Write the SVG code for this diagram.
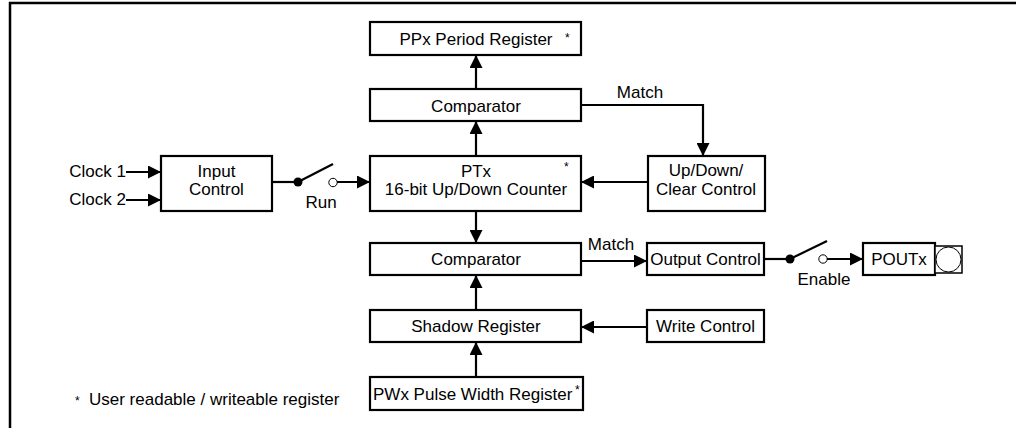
<svg xmlns="http://www.w3.org/2000/svg" width="1016" height="428" viewBox="0 0 1016 428">
<style>
.b{fill:#fff;stroke:#000;stroke-width:2.2}
.t{font-family:"Liberation Sans",Arial,sans-serif;font-size:17px;fill:#000}
.c{text-anchor:middle}
.s{font-family:"Liberation Sans",Arial,sans-serif;font-size:12px;fill:#000}
.w{fill:none;stroke:#000;stroke-width:2.2}
</style>
<defs>
<marker id="a" markerUnits="userSpaceOnUse" markerWidth="13" markerHeight="13" refX="13" refY="6.5" orient="auto">
<path d="M0,0 L13,6.5 L0,13 z" fill="#000"/>
</marker>
</defs>
<rect width="1016" height="428" fill="#fff"/>
<path d="M10,430 V3 H1020" fill="none" stroke="#000" stroke-width="2.5"/>

<g id="connectors">
<line class="w" x1="476" y1="89" x2="476" y2="55" marker-end="url(#a)"/>
<line class="w" x1="476" y1="156" x2="476" y2="121" marker-end="url(#a)"/>
<polyline class="w" points="581,105 703,105 703,156" marker-end="url(#a)"/>
<text class="t c" x="640" y="98">Match</text>
<line class="w" x1="648" y1="182" x2="581" y2="182" marker-end="url(#a)"/>
<line class="w" x1="126" y1="172" x2="161" y2="172" marker-end="url(#a)"/>
<line class="w" x1="126" y1="200" x2="161" y2="200" marker-end="url(#a)"/>
<line class="w" x1="272" y1="182" x2="298" y2="182"/>
<circle cx="298" cy="182" r="4.5" fill="#000"/>
<line class="w" x1="298" y1="182" x2="333" y2="164"/>
<circle cx="333" cy="182.5" r="4.2" fill="#fff" stroke="#000" stroke-width="1"/>
<line class="w" x1="337" y1="182" x2="370" y2="182" marker-end="url(#a)"/>
<text class="t c" x="321" y="208">Run</text>
<line class="w" x1="476" y1="211" x2="476" y2="243" marker-end="url(#a)"/>
<line class="w" x1="581" y1="261" x2="647" y2="261" marker-end="url(#a)"/>
<text class="t c" x="611" y="250">Match</text>
<line class="w" x1="764" y1="259" x2="790" y2="259"/>
<circle cx="790" cy="259" r="4.5" fill="#000"/>
<line class="w" x1="790" y1="259" x2="827" y2="241"/>
<circle cx="823" cy="259" r="4.2" fill="#fff" stroke="#000" stroke-width="1"/>
<line class="w" x1="827" y1="259" x2="863" y2="259" marker-end="url(#a)"/>
<text class="t c" x="824" y="285">Enable</text>
<line class="w" x1="476" y1="310" x2="476" y2="275" marker-end="url(#a)"/>
<line class="w" x1="647" y1="327" x2="581" y2="327" marker-end="url(#a)"/>
<line class="w" x1="476" y1="377" x2="476" y2="342" marker-end="url(#a)"/>
</g>

<g id="clock1"><text class="t" x="126" y="177" text-anchor="end">Clock 1</text></g>
<g id="clock2"><text class="t" x="126" y="205" text-anchor="end">Clock 2</text></g>

<g id="ppx">
<rect class="b" x="370" y="22" width="211" height="33"/>
<text class="t c" x="476" y="45">PPx Period Register</text>
<text class="s" x="565" y="42">*</text>
</g>
<g id="comparator1">
<rect class="b" x="370" y="89" width="211" height="32"/>
<text class="t c" x="476" y="112">Comparator</text>
</g>
<g id="ptx">
<rect class="b" x="370" y="156" width="211" height="55"/>
<text class="t c" x="476" y="177">PTx</text>
<text class="t c" x="476" y="195">16-bit Up/Down Counter</text>
<text class="s" x="564" y="171">*</text>
</g>
<g id="updown">
<rect class="b" x="648" y="156" width="117" height="55"/>
<text class="t c" x="706" y="176">Up/Down/</text>
<text class="t c" x="706" y="195">Clear Control</text>
</g>
<g id="input">
<rect class="b" x="161" y="156" width="111" height="55"/>
<text class="t c" x="216.5" y="177">Input</text>
<text class="t c" x="216.5" y="195">Control</text>
</g>
<g id="comparator2">
<rect class="b" x="370" y="243" width="211" height="32"/>
<text class="t c" x="476" y="265">Comparator</text>
</g>
<g id="output">
<rect class="b" x="647" y="243" width="117" height="32"/>
<text class="t c" x="705.5" y="265">Output Control</text>
</g>
<g id="poutx">
<rect class="b" x="863" y="243" width="72" height="32"/>
<text class="t c" x="899" y="265">POUTx</text>
<rect x="935" y="246" width="27" height="27" fill="#fff" stroke="#000" stroke-width="1.5"/>
<circle cx="948.5" cy="259.5" r="12.5" fill="#fff" stroke="#000" stroke-width="1"/>
</g>
<g id="shadow">
<rect class="b" x="370" y="310" width="211" height="32"/>
<text class="t c" x="476" y="332">Shadow Register</text>
</g>
<g id="write">
<rect class="b" x="647" y="310" width="117" height="32"/>
<text class="t c" x="705.5" y="332">Write Control</text>
</g>
<g id="pwx">
<rect class="b" x="370" y="377" width="213" height="33"/>
<text class="t" x="373" y="400">PWx Pulse Width Register</text>
<text class="s" x="575" y="394">*</text>
</g>
<g id="note">
<text class="s" x="75" y="405">*</text>
<text class="t" x="89" y="405">User readable / writeable register</text>
</g>
</svg>
